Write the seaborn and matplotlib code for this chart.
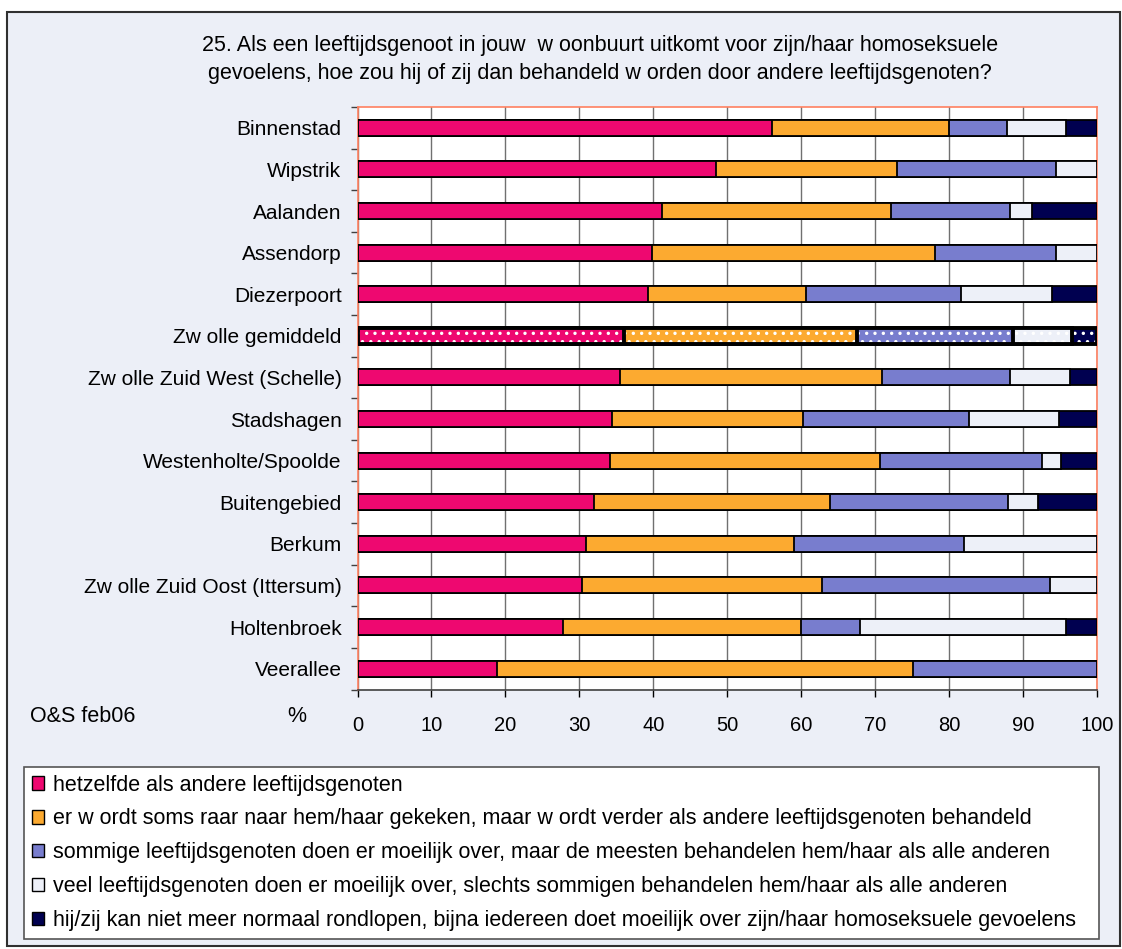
import numpy as np
import pandas as pd
import matplotlib
matplotlib.use("Agg")
import matplotlib.pyplot as plt
from matplotlib.patches import Rectangle
import seaborn as sns

# ---------------- data ----------------
regions = ["Binnenstad", "Wipstrik", "Aalanden", "Assendorp", "Diezerpoort",
           "Zw olle gemiddeld", "Zw olle Zuid West (Schelle)", "Stadshagen",
           "Westenholte/Spoolde", "Buitengebied", "Berkum",
           "Zw olle Zuid Oost (Ittersum)", "Holtenbroek", "Veerallee"]
same    = [56.0, 48.5, 41.2, 39.8, 39.3, 36.0, 35.5, 34.4, 34.1, 32.0, 30.9, 30.3, 27.8, 18.8]
raar    = [24.0, 24.4, 30.9, 38.3, 21.3, 31.6, 35.4, 25.9, 36.6, 31.9, 28.1, 32.5, 32.2, 56.3]
sommige = [7.8, 21.6, 16.1, 16.4, 21.0, 21.1, 17.3, 22.4, 21.9, 24.0, 23.0, 30.9, 8.0, 24.9]
veel    = [8.0, 5.5, 3.0, 5.5, 12.3, 7.9, 8.1, 12.1, 2.5, 4.1, 18.0, 6.3, 27.8, 0.0]
niet    = [4.2, 0.0, 8.8, 0.0, 6.1, 3.4, 3.7, 5.2, 4.9, 8.0, 0.0, 0.0, 4.2, 0.0]

series_labels = [
    "hetzelfde als andere leeftijdsgenoten",
    "er w ordt soms raar naar hem/haar gekeken, maar w ordt verder als andere leeftijdsgenoten behandeld",
    "sommige leeftijdsgenoten doen er moeilijk over, maar de meesten behandelen hem/haar als alle anderen",
    "veel leeftijdsgenoten doen er moeilijk over, slechts sommigen behandelen hem/haar als alle anderen",
    "hij/zij kan niet meer normaal rondlopen, bijna iedereen doet moeilijk over zijn/haar homoseksuele gevoelens",
]
colors = ["#EE0870", "#FCAA30", "#787DCE", "#EDF0F8", "#000050"]
xticks = list(range(0, 101, 10))
title_lines = ["25. Als een leeftijdsgenoot in jouw  w oonbuurt uitkomt voor zijn/haar homoseksuele",
               "gevoelens, hoe zou hij of zij dan behandeld w orden door andere leeftijdsgenoten?"]
avg_label = "Zw olle gemiddeld"

df = pd.DataFrame({"region": regions, "s1": same, "s2": raar, "s3": sommige,
                   "s4": veel, "s5": niet})
cols = ["s1", "s2", "s3", "s4", "s5"]
cum = df[cols].cumsum(axis=1)

# ---------------- style ----------------
sns.set_style("white")
plt.rcParams['font.family'] = ['Liberation Sans', 'DejaVu Sans']
plt.rcParams['text.color'] = 'black'
plt.rcParams['xtick.color'] = 'black'
plt.rcParams['ytick.color'] = 'black'
plt.rcParams['xtick.labelcolor'] = 'black'
plt.rcParams['ytick.labelcolor'] = 'black'
plt.rcParams['hatch.linewidth'] = 1.2

W, H = 1122, 949
fig = plt.figure(figsize=(W / 100, H / 100), dpi=100)
fig.patch.set_facecolor("white")
fig.add_artist(Rectangle((7 / W, 3 / H), (1120 - 7) / W, (946 - 12) / H,
                         transform=fig.transFigure, facecolor="#ECEFF7",
                         edgecolor="#303030", lw=1.5, zorder=-10))

ax = fig.add_axes([357.5 / W, 1 - 689.5 / H, (1097 - 357.5) / W, (689.5 - 107) / H])
ax.set_facecolor("white")

avg_idx = regions.index(avg_label)
for k in range(len(cols) - 1, -1, -1):
    sns.barplot(x=cum[cols[k]].values, y=df["region"].values, order=regions,
                orient="h", color=colors[k], saturation=1, width=0.385,
                edgecolor="black", linewidth=1.3, errorbar=None, ax=ax, zorder=3)
    p = ax.containers[-1].patches[avg_idx]
    p.set_hatch("..")
    p._hatch_color = (1, 1, 1, 1)
    p.set_linewidth(2.8)

ax.set_xlim(0, 100)
ax.set_ylim(len(regions) - 0.5, -0.5)
ax.set_xticks(xticks)
ax.set_xticklabels([str(t) for t in xticks])
ax.set_xlabel("")
ax.set_ylabel("")
ax.set_axisbelow(True)
ax.xaxis.grid(True, color="#707070", lw=1)
ax.yaxis.grid(False)

for s in ["top", "right", "left"]:
    ax.spines[s].set_color("#FF8060")
    ax.spines[s].set_linewidth(1.2)
ax.spines["bottom"].set_color("#404040")
ax.spines["bottom"].set_linewidth(1.2)

ax.set_yticks(np.arange(-0.5, len(regions), 1), minor=True)
ax.tick_params(axis="y", which="major", length=0, pad=11.5, labelsize=15, labelcolor="black")
ax.tick_params(axis="y", which="minor", length=5, width=1, color="#404040", left=True)
ax.tick_params(axis="x", which="major", length=5, width=1, color="black", pad=14,
               labelsize=14.5, bottom=True, labelcolor="black")

# titles and side texts
fig.text(600 / W, 1 - 45 / H, title_lines[0], ha="center", va="center", fontsize=15.5, color="black")
fig.text(600 / W, 1 - 73 / H, title_lines[1], ha="center", va="center", fontsize=15.5, color="black")
fig.text(30 / W, 1 - 717 / H, "O&S feb06", ha="left", va="center", fontsize=15.5, color="black")
fig.text(296.5 / W, 1 - 717 / H, "%", ha="center", va="center", fontsize=15.5, color="black")

# legend
handles = [Rectangle((0, 0), 1, 1, facecolor=c, edgecolor="black", lw=1) for c in colors]
leg = fig.legend(handles, series_labels, loc="upper left",
                 bbox_to_anchor=(24 / W, 1 - 939 / H, (1099 - 24) / W, (939 - 767) / H),
                 mode="expand", ncol=1, frameon=True, fancybox=False,
                 edgecolor="#555555", facecolor="white", framealpha=1,
                 fontsize=15.5, handlelength=0.58, handleheight=0.58,
                 handletextpad=0.42, labelspacing=0.6, borderpad=0.35,
                 borderaxespad=0)
leg.get_frame().set_linewidth(1.2)
for t in leg.get_texts():
    t.set_color("black")

fig.savefig("out.png", dpi=100)
